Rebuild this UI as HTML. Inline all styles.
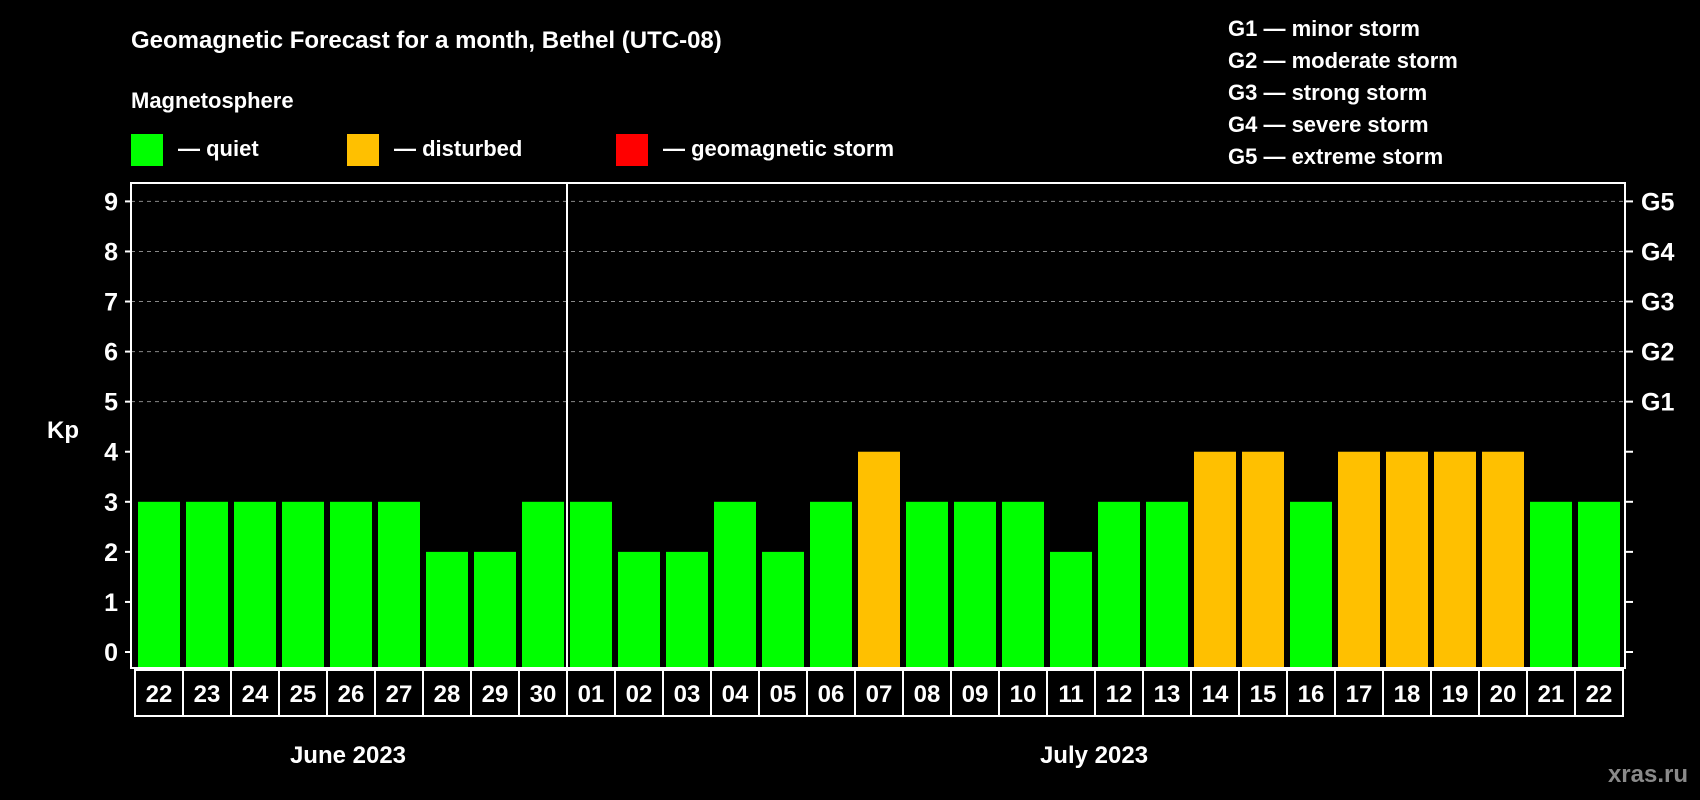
<!DOCTYPE html>
<html><head><meta charset="utf-8"><style>
html,body{margin:0;padding:0;background:#000;}
svg{display:block;font-family:"Liberation Sans",Arial,sans-serif;font-weight:bold;}
</style></head><body>
<svg id="chart" width="1700" height="800" viewBox="0 0 1700 800" xmlns="http://www.w3.org/2000/svg">
<rect width="1700" height="800" fill="#000"/>
<text x="131" y="48" fill="#fff" font-size="24">Geomagnetic Forecast for a month, Bethel (UTC-08)</text>
<text x="131" y="108" fill="#fff" font-size="22">Magnetosphere</text>
<g><rect x="131" y="134" width="32" height="32" fill="#00ff00"/><text x="178" y="156" fill="#fff" font-size="22">— quiet</text></g>
<g><rect x="347" y="134" width="32" height="32" fill="#ffc000"/><text x="394" y="156" fill="#fff" font-size="22">— disturbed</text></g>
<g><rect x="616" y="134" width="32" height="32" fill="#ff0000"/><text x="663" y="156" fill="#fff" font-size="22">— geomagnetic storm</text></g>
<g fill="#fff" font-size="22">
<text x="1228" y="36">G1 — minor storm</text>
<text x="1228" y="68">G2 — moderate storm</text>
<text x="1228" y="100">G3 — strong storm</text>
<text x="1228" y="132">G4 — severe storm</text>
<text x="1228" y="164">G5 — extreme storm</text>
</g>
<text x="63" y="438" fill="#fff" font-size="24" text-anchor="middle">Kp</text>
<text x="348" y="763" fill="#fff" font-size="24" text-anchor="middle">June 2023</text>
<text x="1094" y="763" fill="#fff" font-size="24" text-anchor="middle">July 2023</text>
<text x="1688" y="782" fill="#8a8a8a" font-size="24" text-anchor="end">xras.ru</text>
<g id="plot"></g>
</svg>
<script>
const days = ["22","23","24","25","26","27","28","29","30","01","02","03","04","05","06","07","08","09","10","11","12","13","14","15","16","17","18","19","20","21","22"];
const kpValues = [3,3,3,3,3,3,2,2,3,3,2,2,3,2,3,4,3,3,3,2,3,3,4,4,3,4,4,4,4,3,3];
const yTicks = [0,1,2,3,4,5,6,7,8,9];
const gLabels = ["G1","G2","G3","G4","G5"];
const gLevels = [5,6,7,8,9];
const monthSplit = 9;

const NS="http://www.w3.org/2000/svg";
const plot=document.getElementById('plot');
const L=131,T=183,R=1625,B=668,Y0=652,Y9=201.4;
const unit=(Y0-Y9)/9;
const x0=138,pitch=(1626-138)/days.length,bw=pitch-6;
const yS=v=>Y0-v*unit;
const xS=i=>x0+i*pitch;
function mk(tag,attrs){const e=document.createElementNS(NS,tag);for(const k in attrs)e.setAttribute(k,attrs[k]);plot.appendChild(e);return e;}

gLevels.forEach(v=>{
  const g=mk('line',{x1:L,x2:R,y1:yS(v),y2:yS(v),stroke:'#888','stroke-dasharray':'4,4','stroke-width':1});
  
  
});
yTicks.forEach(v=>{
  const t=mk('line',{x1:L-6,x2:L,y1:yS(v),y2:yS(v),stroke:'#fff','stroke-width':2});
  
  
  const t2=mk('line',{x1:R,x2:R+8,y1:yS(v),y2:yS(v),stroke:'#fff','stroke-width':2});
  
  
  const l=mk('text',{x:L-13,y:yS(v)+9,fill:'#fff','font-size':25,'text-anchor':'end'});
  l.textContent=v;
  
  
});
gLabels.forEach((g,i)=>{
  const l=mk('text',{x:R+16,y:yS(gLevels[i])+9,fill:'#fff','font-size':25});
  l.textContent=g;
  
  
});
kpValues.forEach((v,i)=>{
  const b=mk('rect',{x:xS(i),y:yS(v),width:bw,height:B-yS(v)-1,fill:v>=5?'#ff0000':(v>=4?'#ffc000':'#00ff00')});
  
  
  const c=mk('rect',{x:xS(i)-3,y:670,width:pitch,height:46,fill:'none',stroke:'#fff','stroke-width':2});
  
  
  const t=mk('text',{x:xS(i)+bw/2,y:702,fill:'#fff','font-size':24,'text-anchor':'middle'});
  t.textContent=days[i];
  
  
});
const d=mk('line',{x1:xS(monthSplit)-3,x2:xS(monthSplit)-3,y1:T,y2:B,stroke:'#fff','stroke-width':2});


const f=mk('rect',{x:L,y:T,width:R-L,height:B-T,fill:'none',stroke:'#fff','stroke-width':2});


</script>
</body></html>
